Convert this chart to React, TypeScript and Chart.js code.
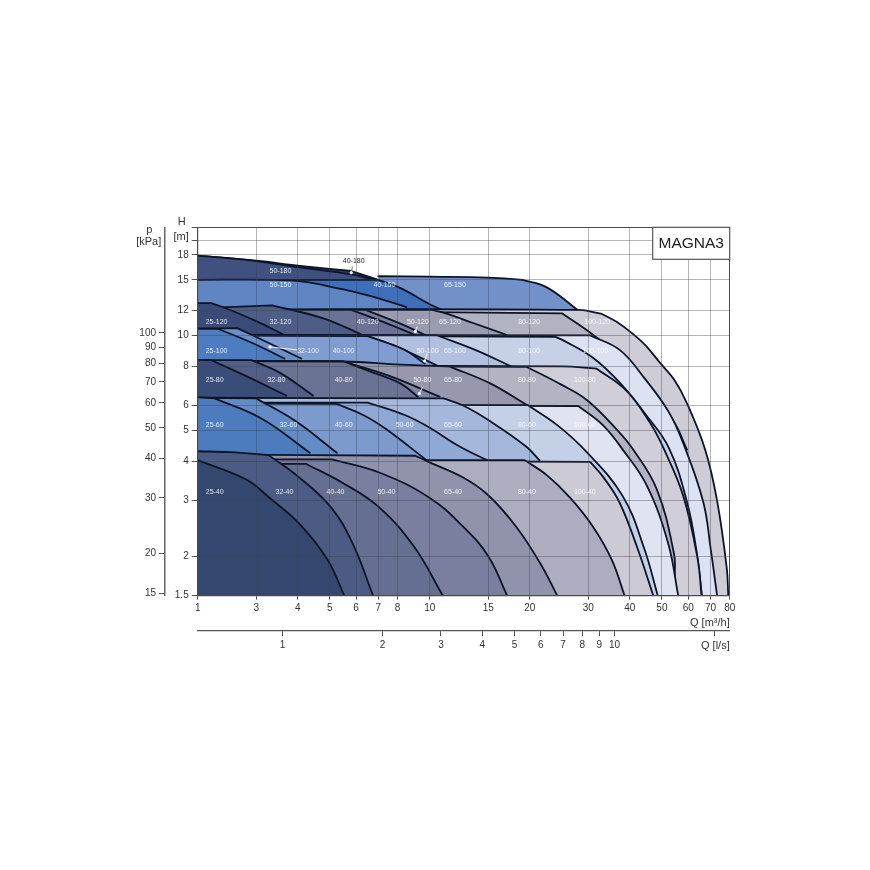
import React, { useEffect, useRef } from "react";
import { Chart, registerables } from "chart.js";

Chart.register(...registerables);

// The printed Q axis is broken: its first tick reads "1" but sits where the log scale has 2.
const qAxisStart = 2;
const qAxisEnd = 80;
const hAxisStart = 1.5;
const hAxisEnd = 22;
const qTicks = [2, 3, 4, 5, 6, 7, 8, 10, 15, 20, 30, 40, 50, 60, 70, 80];
const hTicks = [1.5, 2, 3, 4, 5, 6, 8, 10, 12, 15, 18, 20, 22];
const hUnlabelled = [20, 22];
const pTicks = [15, 20, 30, 40, 50, 60, 70, 80, 90, 100];
const lsTicks = [1, 2, 3, 4, 5, 6, 7, 8, 9, 10, 20];
const lsUnlabelled = [20];

// Curves as [Q, H]
const c25_40 = [[2, 4.03], [2.8, 3.5], [3.27, 3.08], [4.07, 2.52], [4.92, 1.95], [5.53, 1.5]];
const c32_40 = [[2, 4.3], [2.5, 4.27], [3.27, 4.18], [3.98, 3.6], [5.02, 2.87], [5.85, 2.2], [6.75, 1.5]];
const c40_40 = [[2, 3.92], [4.25, 3.92], [5.5, 3.4], [7, 2.87], [8.95, 2.15], [10.95, 1.5]];
const c50_40 = [[2, 4.05], [5.08, 4.05], [7.1, 3.67], [10, 3.06], [12.6, 2.48], [15, 2], [17.1, 1.5]];
const c65_40 = [[2, 4.2], [9.05, 4.16], [9.8, 4], [12.6, 3.55], [15, 3.12], [18.2, 2.48], [21.5, 1.9], [24.2, 1.5]];
const c80_40 = [[2, 4.03], [19.3, 4.03], [22.6, 3.6], [26.4, 3.07], [31, 2.48], [35.3, 1.95], [38.6, 1.5]];
const c100_40 = [[2, 4.03], [30.4, 3.98], [33.3, 3.56], [37.2, 2.97], [42, 2.15], [47.1, 1.5]];

const c25_60 = [[2, 6.37], [2.25, 6.32], [3.12, 5.45], [4.35, 4.25]];
const c32_60 = [[2, 6.35], [3, 6.32], [3.95, 5.35], [5.25, 4.25]];
const c40_60 = [[2, 6.1], [5.25, 6.07], [6.3, 5.6], [7.45, 5.02], [9.8, 4.02]];
const c50_60 = [[2, 6.13], [6.5, 6.13], [8.4, 5.6], [9.85, 5.15], [12.3, 4.45], [14.85, 4.03]];
const c65_60 = [[2, 6.35], [11, 6.32], [12.6, 6], [15.2, 5.35], [19.5, 4.45], [21.4, 4.02]];
const c80_60 = [[2, 6.02], [19.7, 6.02], [24.2, 5.2], [29.7, 4.27], [38.1, 3.1], [44.2, 2.12], [48.6, 1.5]];
const c100_60 = [[2, 6.02], [28, 5.98], [33.2, 5.2], [38.1, 4.35], [45, 3.35], [52.2, 2.2], [56, 1.5]];

const c25_80 = [[2, 8.37], [2.2, 8.35], [2.75, 7.5], [3.7, 6.45]];
const c32_80 = [[2, 8.35], [2.9, 8.35], [3.55, 7.6], [4.45, 6.45]];
const c40_80 = [[2, 8.3], [5.5, 8.27], [6.6, 7.7], [8.15, 7.05], [9.2, 6.4]];
const c50_80 = [[2, 8.3], [5.5, 8.27], [7.55, 7.45], [10.7, 6.4]];
const c65_80 = [[2, 8.3], [5.5, 8.27], [8.15, 8.08], [11.5, 7.97], [15.2, 7.05], [19.6, 6.02]];
const c80_80 = [[2, 8.02], [19.6, 7.95], [24.8, 7], [29.7, 6.25], [36.8, 5], [41, 4.35], [48.3, 3.25], [54.4, 2.03], [54.7, 1.73]];
const c100_80 = [[2, 8.02], [25, 7.98], [31.8, 7.85], [39, 6.7], [46, 5.3], [50.8, 4.35], [58, 3.1], [64, 1.97], [65.8, 1.5]];

const c25_100 = [[2, 10.5], [2.3, 10.5], [2.9, 9.5], [3.65, 8.45]];
const c32_100 = [[2, 10.5], [2.63, 10.55], [3.25, 9.5], [4.1, 8.45]];
const c40_100 = [[2, 10], [6.5, 9.95], [8.4, 9], [9.65, 8.15]];
const c50_100 = [[2, 10], [6.5, 9.95], [7.95, 9.2], [10.6, 8]];
const c65_100 = [[2, 10.02], [10.5, 10], [10.95, 9.85], [13.7, 9], [17.5, 8]];
const c80_100 = [[2, 10.02], [23.9, 9.9], [25, 9.7], [31, 8.5], [37.5, 7.05], [44.5, 5.65], [52.5, 4.4], [59.5, 2.97], [63.5, 2.09], [66, 1.5]];
const c100_100 = [[2, 10.05], [30.4, 10], [37.3, 9], [44.4, 7.3], [52.3, 5.75], [58, 4.55], [66.6, 2.97], [70.2, 2.09], [73.3, 1.5]];

const c25_120 = [[2, 12.65], [2.2, 12.65], [2.45, 12.15], [3, 11.1], [3.6, 10.1]];
const c32_120 = [[2, 12.2], [3.35, 12.45], [4.75, 11.35], [6.2, 10.1]];
const c40_120 = [[2, 12.05], [5.8, 12.05], [7.3, 11], [9, 10.05]];
const c50_120 = [[2, 12.05], [6.4, 12.05], [8.15, 10.9], [9.65, 10.05]];
const c65_120 = [[2, 12.05], [10.2, 12.05], [11.3, 11.7], [13.5, 10.95], [17, 10.05]];
const c80_120 = [[2, 12.05], [25, 11.75], [31, 10.05], [39.2, 8.2], [47, 6.55], [54.5, 5.3], [59.5, 4.35]];
const c100_120 = [[2, 12.1], [28, 12.05], [33, 11.7], [36.5, 11.05], [40, 10.3], [44.4, 9.35], [49.3, 8.2], [54.4, 7.25], [59.5, 6.1], [67.5, 4.35], [73.3, 3], [78.4, 1.83], [79.2, 1.5]];

const c50_150 = [[2, 15], [3.35, 15], [4.15, 14.8], [5.5, 14], [6.85, 13.2], [8.5, 12.3]];
const c40_150 = [[2, 15], [7, 15], [8.2, 14.1], [10, 12.55], [11.2, 11.9]];
const c65_150 = [[7, 15.4], [10, 15.35], [15, 15.25], [19, 15], [22.5, 14.2], [28, 12]];

const c50_180 = [[2, 17.9], [3, 17.2], [4, 16.45], [5.8, 15.6], [7, 14.9]];
const c40_180 = [[2, 17.9], [3, 17.25], [4, 16.65], [5.8, 16], [7, 15]];

// Listed from the top of the stack to the bottom
const regionNames = [
  "25-40", "32-40", "40-40", "50-40", "65-40", "80-40", "100-40",
  "25-60", "32-60", "40-60", "50-60", "65-60", "80-60", "100-60",
  "25-80", "32-80", "40-80", "50-80", "65-80", "80-80", "100-80",
  "25-100", "32-100", "40-100", "50-100", "65-100", "80-100", "100-100",
  "25-120", "32-120", "40-120", "50-120", "65-120", "80-120", "100-120",
  "50-150", "40-150", "65-150",
  "50-180", "40-180",
];
const regionCurves = [
  c25_40, c32_40, c40_40, c50_40, c65_40, c80_40, c100_40,
  c25_60, c32_60, c40_60, c50_60, c65_60, c80_60, c100_60,
  c25_80, c32_80, c40_80, c50_80, c65_80, c80_80, c100_80,
  c25_100, c32_100, c40_100, c50_100, c65_100, c80_100, c100_100,
  c25_120, c32_120, c40_120, c50_120, c65_120, c80_120, c100_120,
  c50_150, c40_150, c65_150,
  c50_180, c40_180,
];
const regionColors = [
  "#34486f", "#4b5b83", "#656f92", "#7a7f9f", "#9193ad", "#adadc0", "#cbcad5",
  "#4d7cbe", "#648bc5", "#7d9acd", "#8fa8d4", "#a5b8dc", "#c4d0e6", "#dfe3f2",
  "#3a4c78", "#515f86", "#6b7394", "#7f86a3", "#9798ae", "#b3b3c3", "#cfced9",
  "#4d7cc0", "#6b8fc9", "#7f9dd0", "#8aa4d2", "#b0c0de", "#c6d0e7", "#dde2f2",
  "#3a4b77", "#4e5d85", "#6a7296", "#7a7f9f", "#9a9bb0", "#b2b2c2", "#cdccd7",
  "#5f85c3", "#3f6fb9", "#7391c9",
  "#40507f", "#2f3d6a",
];
// Where each region's name is written, [Q, H]
const regionLabelAt = [
  [2.25, 3.2], [3.65, 3.2], [5.2, 3.2], [7.4, 3.2], [11.75, 3.2], [19.6, 3.2], [29.3, 3.2],
  [2.25, 5.2], [3.75, 5.2], [5.5, 5.2], [8.4, 5.2], [11.75, 5.2], [19.6, 5.2], [29.3, 5.2],
  [2.25, 7.2], [3.45, 7.2], [5.5, 7.2], [9.5, 7.2], [11.75, 7.2], [19.6, 7.2], [29.3, 7.2],
  [2.28, 8.95], [4.3, 8.95], [5.5, 8.95], [9.85, 8.95], [11.9, 8.95], [19.9, 8.95], [31.5, 8.95],
  [2.28, 11], [3.55, 11], [6.5, 11], [9.2, 11], [11.5, 11], [19.9, 11], [31.9, 11],
  [3.55, 14.4], [7.3, 14.4], [11.9, 14.4],
  [3.55, 16],
  [5.9, 17.2],
];

// Leader lines from a name to a thin region: [from, dot]
const leader40_180 = [[5.85, 16.5], [5.8, 15.8]];
const leader32_100 = [[3.98, 9], [3.3, 9.2]];
const leader50_120 = [[9.15, 10.65], [9.05, 10.3]];
const leader50_100 = [[9.8, 8.75], [9.65, 8.3]];
const leader50_80 = [[9.5, 6.85], [9.3, 6.55]];
const leaders = [leader40_180, leader32_100, leader50_120, leader50_100, leader50_80];

const modelName = "MAGNA3";

const toPoints = (pairs: number[][]) => pairs.map(([x, y]) => ({ x, y }));

// Repeating a point makes the spline turn sharply there: used at the knee where a flat top
// breaks into the falling curve, so the top stays flat and the arc stays round.
const slope = (a: number[], b: number[]) =>
  Math.abs(Math.log(a[1] / b[1]) / Math.log(b[0] / a[0]));
const withKnees = (pairs: number[][]) => {
  const out: number[][] = [];
  pairs.forEach((p, i) => {
    out.push(p);
    if (i > 0 && i < pairs.length - 1 && slope(pairs[i - 1], p) < 0.2 && slope(p, pairs[i + 1]) > 0.25) {
      out.push(p);
    }
  });
  return out;
};

const FONT = '"Liberation Sans", Arial, sans-serif';
const TEXT = "#333333";

const annotations = {
  id: "annotations",
  afterDraw(chart: any) {
    const { ctx, scales, chartArea } = chart;
    ctx.save();
    ctx.textBaseline = "middle";
    ctx.textAlign = "center";
    regionNames.forEach((name, i) => {
      const [q, h] = regionLabelAt[i];
      ctx.font = `7px ${FONT}`;
      ctx.fillStyle = name === "40-180" ? "#222222" : "rgba(255,255,255,0.85)";
      ctx.fillText(name, scales.x.getPixelForValue(q), scales.y.getPixelForValue(h));
    });
    // Model box
    const bw = 77, bh = 32;
    ctx.fillStyle = "#ffffff";
    ctx.fillRect(chartArea.right - bw, chartArea.top, bw, bh);
    ctx.strokeStyle = "#555555";
    ctx.lineWidth = 1.2;
    ctx.strokeRect(chartArea.right - bw, chartArea.top, bw, bh);
    ctx.fillStyle = "#222222";
    ctx.font = `15.5px ${FONT}`;
    ctx.fillText(modelName, chartArea.right - bw / 2, chartArea.top + bh / 2 + 0.5);
    // Axis names
    ctx.fillStyle = TEXT;
    ctx.font = `11px ${FONT}`;
    ctx.fillText("H", chartArea.left - 16, chartArea.top - 5);
    ctx.fillText("[m]", chartArea.left - 16.5, chartArea.top + 9.5);
    ctx.fillText("p", chartArea.left - 48.5, chartArea.top + 3);
    ctx.fillText("[kPa]", chartArea.left - 49, chartArea.top + 15);
    ctx.textAlign = "right";
    ctx.fillText("Q [m³/h]", chartArea.right, chartArea.bottom + 27);
    ctx.fillText("Q [l/s]", chartArea.right, chartArea.bottom + 50.5);
    ctx.restore();
  },
};

const gridGray = "rgba(62,62,74,0.38)";
const frame = "#4a4a4a";

export default function App() {
  const ref = useRef<HTMLCanvasElement>(null);
  useEffect(() => {
    if (!ref.current) return;
    const regionSets = regionNames.map((name, i) => ({
      label: name,
      data: toPoints(withKnees(regionCurves[i])),
      showLine: true,
      fill: "start",
      backgroundColor: regionColors[i],
      borderColor: "#0c1428",
      borderWidth: 1.8,
      pointRadius: 0,
      tension: 0.4,
    }));
    const leaderSets = leaders.map((pairs, i) => ({
      label: `leader ${i}`,
      data: toPoints(pairs),
      showLine: true,
      fill: false,
      borderColor: i === 0 ? "#777777" : "rgba(255,255,255,0.9)",
      borderWidth: 1,
      pointRadius: [0, 1.6],
      pointBackgroundColor: "#ffffff",
      pointBorderWidth: 0,
    }));
    const chart = new Chart(ref.current, {
      type: "scatter",
      data: { datasets: [...leaderSets, ...regionSets] as any },
      plugins: [annotations],
      options: {
        animation: false,
        responsive: false,
        devicePixelRatio: 1,
        layout: { padding: { top: 227.3, right: 140.3, left: 0, bottom: 0 } },
        plugins: { legend: { display: false }, tooltip: { enabled: false } },
        elements: { line: { borderCapStyle: "round", borderJoinStyle: "round" } },
        font: { family: FONT },
        scales: {
          x: {
            type: "logarithmic",
            position: "bottom",
            weight: 1,
            min: qAxisStart,
            max: qAxisEnd,
            afterBuildTicks: (s: any) => { s.ticks = qTicks.map((value) => ({ value })); },
            afterFit: (s: any) => { s.height = 35.3; },
            grid: {
              z: 1,
              color: (c: any) => (c.tick && c.tick.value === qAxisEnd ? frame : gridGray),
              tickColor: "#555555",
              tickLength: 4,
            },
            border: { color: frame, width: 1.2, z: 2 },
            ticks: {
              autoSkip: false, maxRotation: 0, padding: 3, color: TEXT,
              font: { size: 10, family: FONT },
              callback: (v: any) => (v === qAxisStart ? "1" : String(v)),
            },
          },
          x2: {
            type: "logarithmic",
            position: "bottom",
            weight: 2,
            min: qAxisStart / 3.6,
            max: qAxisEnd / 3.6,
            afterBuildTicks: (s: any) => { s.ticks = lsTicks.map((value) => ({ value })); },
            afterFit: (s: any) => { s.height = 239; },
            grid: { drawOnChartArea: false, tickColor: "#555555", tickLength: 5 },
            border: { color: "#555555", width: 1.2 },
            ticks: {
              autoSkip: false, maxRotation: 0, padding: 3, color: TEXT,
              font: { size: 10, family: FONT },
              callback: (v: any) => (lsUnlabelled.includes(v) ? "" : String(v)),
            },
          },
          y: {
            type: "logarithmic",
            position: "left",
            weight: 1,
            min: hAxisStart,
            max: hAxisEnd,
            afterBuildTicks: (s: any) => { s.ticks = hTicks.map((value) => ({ value })); },
            afterFit: (s: any) => { s.width = 32.7; },
            grid: {
              z: 1,
              color: (c: any) => (c.tick && c.tick.value === hAxisEnd ? frame : gridGray),
              tickColor: "#555555",
              tickLength: 6,
            },
            border: { color: frame, width: 1.2, z: 2 },
            ticks: {
              autoSkip: false, padding: 3, color: TEXT,
              font: { size: 10, family: FONT },
              callback: (v: any) => (hUnlabelled.includes(v) ? "" : String(v)),
            },
          },
          y2: {
            type: "logarithmic",
            position: "left",
            weight: 2,
            min: hAxisStart * 9.81,
            max: hAxisEnd * 9.81,
            afterBuildTicks: (s: any) => { s.ticks = pTicks.map((value) => ({ value })); },
            afterFit: (s: any) => { s.width = 165; },
            grid: { drawOnChartArea: false, tickColor: "#555555", tickLength: 6 },
            border: { color: "#666666", width: 1.5 },
            ticks: {
              autoSkip: false, padding: 3, color: TEXT,
              font: { size: 10, family: FONT },
              callback: (v: any) => String(v),
            },
          },
        },
      },
    } as any);
    return () => chart.destroy();
  }, []);
  return (
    <canvas
      ref={ref}
      width={870}
      height={870}
      style={{ position: "absolute", left: 0, top: 0, width: 870, height: 870 }}
    />
  );
}
